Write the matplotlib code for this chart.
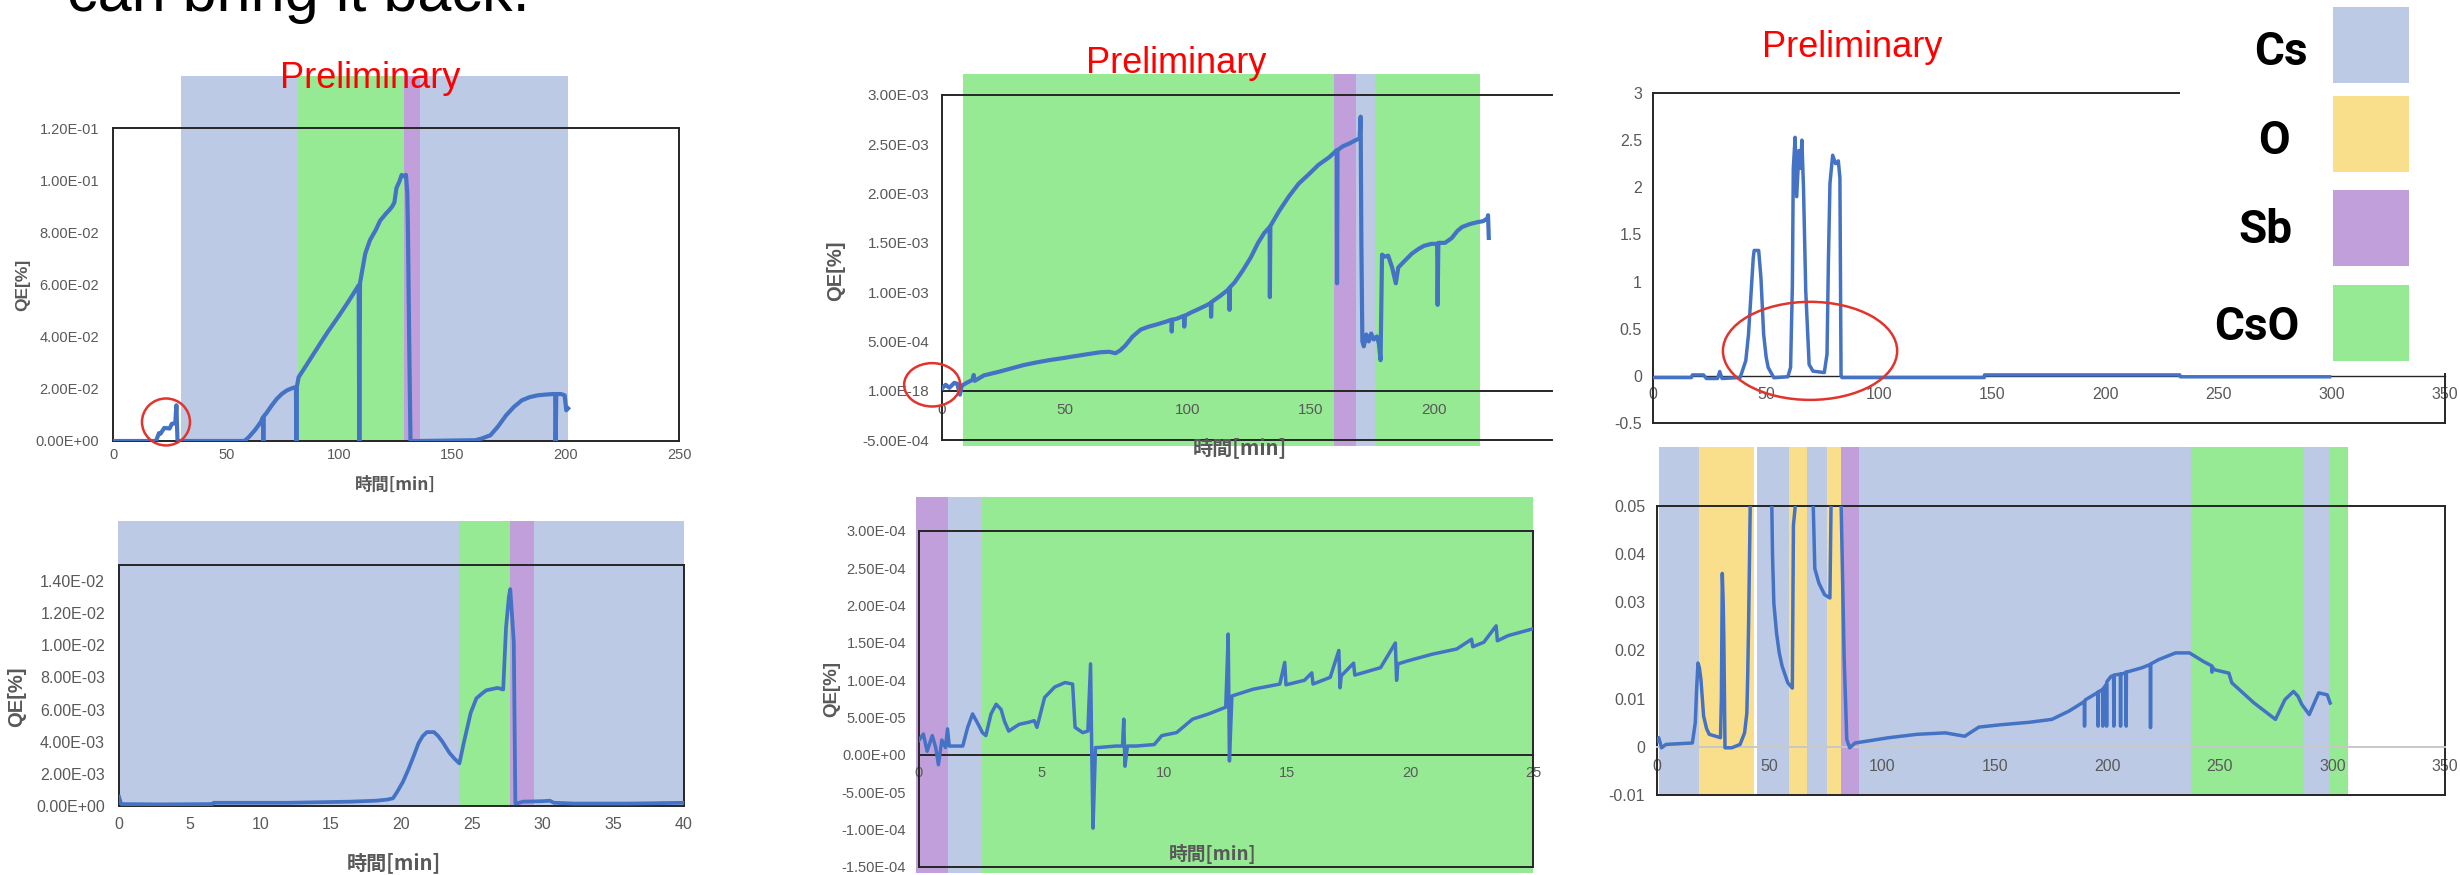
import matplotlib
matplotlib.use("Agg")
import matplotlib.pyplot as plt
from matplotlib.patches import Ellipse, Rectangle

plt.rcParams['font.family'] = ['Liberation Sans', 'DejaVu Sans']

# ==============================================================================
# DATA
# ==============================================================================

PHASES = ['Cs', 'O', 'Sb', 'CsO']
PHASE_COLORS = {'Cs': '#BCCAE5', 'O': '#F9DE8C', 'Sb': '#C09FDB', 'CsO': '#96EA94'}

# panel 1 (top left)
t1 = [0, 19, 20.3, 21, 22.6, 25, 26, 27.5, 28, 28.3,
      28.5, 40, 58, 60, 63, 65.3, 66.2, 66.4, 66.6, 67.6,
      70, 72.2, 74.5, 76.8, 79, 80.8, 81, 81.2, 82, 85,
      88.3, 92, 95, 99.8, 104, 108.5, 108.8, 109.1, 111.4, 113.5,
      116, 118, 120.6, 122, 123.4, 124.3, 125.2, 126.5, 127.5, 128.5,
      129.4, 130, 130.3, 130.8, 131.4, 135, 160, 163, 166.7, 170,
      173.6, 177, 180.6, 184, 187.5, 191, 194.4, 195.3, 195.5, 195.8,
      197.9, 199.5, 200.2, 201]
qe1 = [0, 0, 0.003, 0.0028, 0.005, 0.0048, 0.0066, 0.0068, 0.0137, 0.005,
       0, 0, 0, 0.0015, 0.0045, 0.0073, 0.009, 0, 0.0095, 0.0105,
       0.0135, 0.016, 0.018, 0.0194, 0.0202, 0.0207, 0, 0.0207, 0.0245, 0.0285,
       0.033, 0.038, 0.042, 0.048, 0.0535, 0.0597, 0, 0.0605, 0.0718, 0.077,
       0.0808, 0.0845, 0.0872, 0.0885, 0.09, 0.0915, 0.097, 0.0995, 0.102, 0.1015,
       0.102, 0.095, 0.079, 0.04, 0, 0, 0.0003, 0.001, 0.0022, 0.0055,
       0.0098, 0.013, 0.0156, 0.0168, 0.0175, 0.0178, 0.018, 0.018, 0, 0.018,
       0.018, 0.0175, 0.0118, 0.0125]
span1_start = [30, 81.6, 128.4, 135.7]
span1_end = [81.6, 128.4, 135.7, 201]
span1_phase = ['Cs', 'CsO', 'Sb', 'Cs']

# panel 2 (top middle)
t2 = [0, 1.5, 3, 5, 6.2, 7.3, 8, 10, 12.4, 12.9,
      13.3, 17, 22.8, 28, 33.2, 38, 43.5, 49, 53.9, 59,
      64.3, 68, 70.5, 72.5, 74.6, 77.5, 80.8, 84, 87, 91,
      93.3, 93.4, 93.6, 95.4, 98.4, 98.5, 98.7, 101, 103.6, 107,
      109.3, 109.4, 109.6, 113, 116.1, 116.8, 116.9, 117.1, 119, 122.3,
      125.5, 128.5, 131, 133.2, 133.3, 133.5, 137, 141, 145, 149.3,
      153, 157.5, 160.5, 160.6, 160.8, 163, 165.8, 168, 169.8, 170.2,
      170.5, 170.9, 171.5, 172.5, 173.5, 174.5, 175.5, 176.8, 177.6, 178.3,
      178.9, 180, 181.4, 183, 184.5, 185.5, 188.6, 191, 193.8, 196,
      199, 201.3, 201.5, 201.8, 204.5, 207.3, 209.5, 211.4, 214.5, 217.7,
      220, 221.8, 222.0, 222.3]
qe2 = [2.4e-5, 6e-5, 3e-5, 8e-5, 7e-5, -4e-5, 5e-5, 8e-5, 1.1e-4, 1.6e-4,
       1.0e-4, 1.55e-4, 1.9e-4, 2.25e-4, 2.6e-4, 2.85e-4, 3.1e-4, 3.3e-4, 3.5e-4, 3.7e-4,
       3.9e-4, 3.95e-4, 3.8e-4, 4.1e-4, 4.6e-4, 5.5e-4, 6.2e-4, 6.5e-4, 6.7e-4, 7.0e-4,
       7.2e-4, 6.0e-4, 7.2e-4, 7.3e-4, 7.6e-4, 6.5e-4, 7.6e-4, 7.9e-4, 8.2e-4, 8.6e-4,
       8.9e-4, 7.5e-4, 9.0e-4, 9.6e-4, 1.02e-3, 1.04e-3, 8.2e-4, 1.05e-3, 1.1e-3, 1.22e-3,
       1.35e-3, 1.5e-3, 1.6e-3, 1.66e-3, 9.5e-4, 1.67e-3, 1.82e-3, 1.97e-3, 2.1e-3, 2.2e-3,
       2.29e-3, 2.37e-3, 2.44e-3, 1.09e-3, 2.44e-3, 2.48e-3, 2.51e-3, 2.54e-3, 2.56e-3, 2.78e-3,
       1.5e-3, 5.0e-4, 4.5e-4, 5.7e-4, 5.0e-4, 5.8e-4, 5.2e-4, 5.5e-4, 4.8e-4, 3.1e-4,
       1.38e-3, 1.36e-3, 1.37e-3, 1.25e-3, 1.09e-3, 1.25e-3, 1.33e-3, 1.39e-3, 1.44e-3, 1.47e-3,
       1.49e-3, 1.49e-3, 8.7e-4, 1.5e-3, 1.5e-3, 1.55e-3, 1.62e-3, 1.66e-3, 1.69e-3, 1.71e-3,
       1.72e-3, 1.75e-3, 1.78e-3, 1.55e-3]
span2_start = [8.5, 159.5, 168.3, 176]
span2_end = [159.5, 168.3, 176, 218.7]
span2_phase = ['CsO', 'Sb', 'Cs', 'CsO']

# panel 3 (bottom left)
t3 = [0, 0.15, 3, 6.6, 6.7, 12, 16.4, 18.2, 19.0, 19.4,
      19.7, 20.1, 20.5, 20.9, 21.2, 21.5, 21.8, 22.3, 22.6, 22.9,
      23.4, 23.8, 24.1, 24.4, 24.9, 25.3, 25.7, 26.0, 26.8, 27.2,
      27.4, 27.6, 27.7, 27.8, 27.95, 28.06, 28.2, 28.6, 30.0, 30.5,
      30.8, 32.3, 36, 40]
qe3 = [5.8e-4, 1.2e-4, 1.0e-4, 1.2e-4, 2e-4, 2e-4, 2.7e-4, 3.3e-4, 4e-4, 4.8e-4,
       8.9e-4, 1.5e-3, 2.3e-3, 3.2e-3, 3.9e-3, 4.35e-3, 4.6e-3, 4.6e-3, 4.35e-3, 4.0e-3,
       3.3e-3, 2.9e-3, 2.65e-3, 3.9e-3, 5.8e-3, 6.7e-3, 7.0e-3, 7.2e-3, 7.35e-3, 7.25e-3,
       1.11e-2, 1.3e-2, 1.35e-2, 1.22e-2, 1.02e-2, 1.7e-4, 1.7e-4, 2.7e-4, 3.0e-4, 3.3e-4,
       2e-4, 1.5e-4, 1.5e-4, 2e-4]
span3_start = [-0.1, 24.1, 27.7, 29.4]
span3_end = [24.1, 27.7, 29.4, 40]
span3_phase = ['Cs', 'CsO', 'Sb', 'Cs']

# panel 4 (bottom middle)
t4 = [0, 0.2, 0.35, 0.56, 0.7, 0.81, 0.95, 1.1, 1.18, 1.25,
      1.8, 2.0, 2.2, 2.43, 2.6, 2.74, 2.95, 3.16, 3.36, 3.5,
      3.67, 4.09, 4.5, 4.71, 4.82, 5.13, 5.54, 5.96, 6.27, 6.37,
      6.68, 6.89, 7.0, 7.05, 7.1, 7.2, 7.31, 8.03, 8.3, 8.35,
      8.4, 8.5, 8.86, 9.59, 9.9, 10.5, 11.15, 11.8, 12.5, 12.6,
      12.65, 12.75, 13.6, 14.7, 14.9, 14.95, 15.7, 16.0, 16.05, 16.75,
      17.1, 17.15, 17.2, 17.7, 17.75, 18.8, 19.4, 19.45, 19.5, 19.9,
      20.9, 21.9, 22.5, 22.55, 23.0, 23.5, 23.55, 24.0, 25.0]
qe4 = [1.9e-5, 2.8e-5, 5e-6, 2.6e-5, 1e-5, -1.3e-5, 2e-5, 1e-5, 3.5e-5, 1.2e-5,
       1.2e-5, 3.7e-5, 5.5e-5, 4.1e-5, 3.0e-5, 2.6e-5, 5.5e-5, 6.8e-5, 6.1e-5, 4.5e-5,
       3.2e-5, 4.1e-5, 4.4e-5, 4.6e-5, 3.7e-5, 7.7e-5, 9.1e-5, 9.7e-5, 9.5e-5, 3.7e-5,
       3.0e-5, 3.2e-5, 1.22e-4, 0, -9.8e-5, 1e-5, 1e-5, 1.2e-5, 1.2e-5, 4.8e-5,
       -1.5e-5, 1.2e-5, 1.2e-5, 1.4e-5, 2.6e-5, 3.0e-5, 4.8e-5, 5.5e-5, 6.4e-5, 1.62e-4,
       -8e-6, 7.9e-5, 8.8e-5, 9.5e-5, 1.24e-4, 9.4e-5, 1.0e-4, 1.1e-4, 9.5e-5, 1.04e-4,
       1.4e-4, 9e-5, 1.06e-4, 1.23e-4, 1.07e-4, 1.17e-4, 1.5e-4, 1.0e-4, 1.22e-4, 1.26e-4,
       1.35e-4, 1.42e-4, 1.55e-4, 1.45e-4, 1.51e-4, 1.73e-4, 1.53e-4, 1.6e-4, 1.69e-4]
span4_start = [-0.12, 1.2, 2.57]
span4_end = [1.2, 2.57, 25]
span4_phase = ['Sb', 'Cs', 'CsO']

# panel 5 (top right)
t5 = [0, 17, 17.4, 22.3, 23.6, 28.5, 29.5, 30.5, 38.5, 41,
      42.2, 43.4, 44.3, 44.7, 46.7, 47.7, 48.9, 50, 50.9, 53.4,
      59.6, 60.8, 61.6, 62, 62.8, 63.5, 64.5, 65.2, 65.8, 66.5,
      67.5, 69, 70.7, 75.7, 76.9, 77.5, 78.2, 79.4, 80.7, 81.9,
      82.6, 83.1, 83.5, 146.4, 146.5, 232.8, 233, 299]
qe5 = [-0.018, -0.018, 0.01, 0.01, -0.028, -0.028, 0.046, -0.028, -0.018, 0.16,
       0.44, 0.9, 1.25, 1.33, 1.33, 1.04, 0.44, 0.2, 0.089, -0.02,
       -0.01, 0.09, 0.97, 2.2, 2.53, 1.9, 2.39, 2.2, 2.5, 2.0,
       0.9, 0.12, 0.05, 0.035, 0.23, 1.2, 2.04, 2.34, 2.25, 2.28,
       2.1, 0.0, -0.018, -0.018, 0.01, 0.01, -0.01, -0.01]

# panel 6 (bottom right)
t6 = [0, 0.75, 2, 4, 15.7, 17, 17.6, 18.2, 18.8, 19.5,
      20.7, 22, 23.2, 28.2, 28.6, 29, 29.4, 29.7, 30.2, 33.2,
      36.9, 38.9, 39.9, 40.3, 40.7, 41.4, 42, 50.4, 51.0, 51.3,
      51.9, 53.1, 54.3, 55.6, 58.1, 60.1, 60.6, 61.4, 62, 69,
      69.4, 70.1, 71.9, 74.4, 76.8, 77.3, 77.6, 81.5, 81.8, 83.1,
      84.3, 85.6, 88, 103, 115.5, 128, 136.7, 143, 153, 165.4,
      175.4, 182.9, 189.8, 189.9, 190.0, 190.4, 195.8, 195.9, 196.0, 197.9,
      198.0, 198.1, 199.6, 199.7, 199.8, 201.6, 202.8, 202.9, 203.0, 205.8,
      205.9, 206.0, 207.8, 208.3, 208.4, 208.5, 215.3, 219.1, 219.2, 219.3,
      222.8, 230.3, 236.5, 242.8, 246.4, 246.5, 246.6, 247.7, 254, 255.3,
      265.2, 274.7, 278.9, 282.7, 284.7, 286.4, 289.7, 293.9, 297.7, 299]
qe6 = [0.0012, 0.0019, -0.0002, 0.0005, 0.0008, 0.005, 0.012, 0.0174, 0.0165, 0.014,
       0.0064, 0.0038, 0.0026, 0.0019, 0.01, 0.036, 0.03, 0.022, -0.0002, -0.0002,
       0.0005, 0.0029, 0.007, 0.015, 0.026, 0.05, 0.06, 0.06, 0.05, 0.04,
       0.0298, 0.0236, 0.0195, 0.0167, 0.0133, 0.0122, 0.046, 0.05, 0.06, 0.06,
       0.05, 0.037, 0.034, 0.0316, 0.0309, 0.05, 0.06, 0.06, 0.05, 0.0188,
       0.0015, -0.0002, 0.0008, 0.0019, 0.0026, 0.0029, 0.0022, 0.0041, 0.0046, 0.0051,
       0.0057, 0.0074, 0.0094, 0.0043, 0.0096, 0.0098, 0.0113, 0.0043, 0.0114, 0.0119,
       0.0043, 0.012, 0.013, 0.0043, 0.0135, 0.0146, 0.0148, 0.0043, 0.0149, 0.0151,
       0.0043, 0.0151, 0.0153, 0.0155, 0.0043, 0.0155, 0.0164, 0.0171, 0.004, 0.0172,
       0.0181, 0.0195, 0.0195, 0.0177, 0.0168, 0.0155, 0.0166, 0.016, 0.0153, 0.0133,
       0.0091, 0.0057, 0.0098, 0.0115, 0.0105, 0.0088, 0.0067, 0.0112, 0.0108, 0.0091]
span6_start = [0.7, 18.7, 44.2, 58.6, 66.6, 75.6, 81.8, 89.6, 237, 287.2, 298.6]
span6_end = [18.7, 43.2, 58.6, 66.6, 75.6, 81.8, 89.6, 237, 287.2, 298.6, 306.9]
span6_phase = ['Cs', 'O', 'Cs', 'O', 'Cs', 'O', 'Sb', 'Cs', 'CsO', 'Cs', 'CsO']

# tick labels
yticks1 = [0, 0.02, 0.04, 0.06, 0.08, 0.10, 0.12]
ylabels1 = ['0.00E+00', '2.00E-02', '4.00E-02', '6.00E-02', '8.00E-02', '1.00E-01', '1.20E-01']
yticks2 = [-5e-4, 0, 5e-4, 1e-3, 1.5e-3, 2e-3, 2.5e-3, 3e-3]
ylabels2 = ['-5.00E-04', '1.00E-18', '5.00E-04', '1.00E-03', '1.50E-03', '2.00E-03', '2.50E-03', '3.00E-03']
yticks3 = [0, 0.002, 0.004, 0.006, 0.008, 0.010, 0.012, 0.014]
ylabels3 = ['0.00E+00', '2.00E-03', '4.00E-03', '6.00E-03', '8.00E-03', '1.00E-02', '1.20E-02', '1.40E-02']
yticks4 = [-1.5e-4, -1e-4, -5e-5, 0, 5e-5, 1e-4, 1.5e-4, 2e-4, 2.5e-4, 3e-4]
ylabels4 = ['-1.50E-04', '-1.00E-04', '-5.00E-05', '0.00E+00', '5.00E-05', '1.00E-04',
            '1.50E-04', '2.00E-04', '2.50E-04', '3.00E-04']
yticks5 = [-0.5, 0, 0.5, 1, 1.5, 2, 2.5, 3]
ylabels5 = ['-0.5', '0', '0.5', '1', '1.5', '2', '2.5', '3']
yticks6 = [-0.01, 0, 0.01, 0.02, 0.03, 0.04, 0.05]
ylabels6 = ['-0.01', '0', '0.01', '0.02', '0.03', '0.04', '0.05']

# ==============================================================================
# STYLE / HELPERS
# ==============================================================================

W, H = 2460, 875
LINE_BLUE = '#4472C4'
FRAME = '#262626'
GRAY = '#595959'
CIRCLE_RED = '#E0342C'
TICK_FONT = ['Liberation Sans Narrow', 'Liberation Sans', 'DejaVu Sans']
CJK_FONT = ['Noto Sans CJK JP', 'DejaVu Sans']

fig = plt.figure(figsize=(W / 100, H / 100), dpi=100)


def new_axes(left, top, right, bottom):
    """Axes placed by pixel box of the screenshot."""
    return fig.add_axes([left / W, 1 - bottom / H, (right - left) / W, (bottom - top) / H])


def fig_text(x, y, s, **kw):
    return fig.text(x / W, 1 - y / H, s, **kw)


def draw_spans(ax, starts, ends, phases, lo, hi):
    for s, e, p in zip(starts, ends, phases):
        ax.fill_between([s, e], lo, hi, color=PHASE_COLORS[p], lw=0, zorder=0, clip_on=False)


def finish_axes(ax, xlim, ylim, xticks, yticks, ylabels, size, xpad, ypad):
    ax.set_xlim(xlim)
    ax.set_ylim(ylim)
    ax.set_xticks(xticks, [f'{t:g}' for t in xticks])
    ax.set_yticks(yticks, ylabels)
    ax.tick_params(length=0, labelsize=size, labelcolor=GRAY)
    ax.tick_params(axis='x', pad=xpad)
    ax.tick_params(axis='y', pad=ypad)
    for sp in ax.spines.values():
        sp.set_color(FRAME)
        sp.set_linewidth(1.4)
    for lab in ax.get_xticklabels() + ax.get_yticklabels():
        lab.set_fontfamily(TICK_FONT)


def zero_axis(ax, ylo, color=FRAME, lw=1.4):
    """x axis crosses at 0, bottom edge of the plot frame drawn separately."""
    ax.spines['bottom'].set_position(('data', 0))
    ax.spines['bottom'].set_color(color)
    ax.spines['bottom'].set_linewidth(lw)
    ax.axhline(ylo, color=FRAME, lw=1.4, clip_on=False, zorder=2.5)


def axis_labels(xlab_pos, ylab_pos, size):
    fig_text(*xlab_pos, '時間[min]', fontsize=size, fontweight='bold', color=GRAY,
             family=CJK_FONT, ha='center', va='center')
    fig_text(*ylab_pos, 'QE[%]', fontsize=size, fontweight='bold', color=GRAY,
             rotation=90, ha='center', va='center')


# ==============================================================================
# PANELS
# ==============================================================================

# --- panel 1 ---
ax1 = new_axes(113, 128, 679, 441)
draw_spans(ax1, span1_start, span1_end, span1_phase, 0, 0.14)
ax1.plot(t1, qe1, color=LINE_BLUE, lw=3.0, zorder=3)
ax1.add_patch(Ellipse((23.4, 0.0073), 21.2, 0.018, fill=False, ec=CIRCLE_RED, lw=1.8,
                      zorder=4, clip_on=False))
finish_axes(ax1, (0, 250), (0, 0.12), [0, 50, 100, 150, 200, 250], yticks1, ylabels1, 10.5, 5, 10)
axis_labels((395, 485), (23, 285), 12.5)

# --- panel 2 ---
ax2 = new_axes(942, 95, 1552, 440)
draw_spans(ax2, span2_start, span2_end, span2_phase, -5.58e-4, 3.215e-3)
ax2.plot(t2, qe2, color=LINE_BLUE, lw=3.0, zorder=3)
ax2.add_patch(Ellipse((-4, 6e-5), 22.8, 4.4e-4, fill=False, ec=CIRCLE_RED, lw=1.8,
                      zorder=4, clip_on=False))
finish_axes(ax2, (0, 248), (-5e-4, 3e-3), [0, 50, 100, 150, 200], yticks2, ylabels2, 11, 9, 9)
ax2.spines['right'].set_visible(False)
zero_axis(ax2, -5e-4)
axis_labels((1240, 448), (836, 271), 14.5)

# --- panel 3 ---
ax3 = new_axes(119, 565, 684, 806)
draw_spans(ax3, span3_start, span3_end, span3_phase, 0, 0.01773)
ax3.plot(t3, qe3, color=LINE_BLUE, lw=2.7, zorder=3)
finish_axes(ax3, (0, 40), (0, 0.015), list(range(0, 41, 5)), yticks3, ylabels3, 11.5, 8, 10)
axis_labels((394, 863), (17, 697), 14.5)

# --- panel 4 ---
ax4 = new_axes(918.5, 531, 1533, 867)
draw_spans(ax4, span4_start, span4_end, span4_phase, -1.58e-4, 3.45e-4)
ax4.plot(t4, qe4, color=LINE_BLUE, lw=2.5, zorder=3)
finish_axes(ax4, (0, 25), (-1.5e-4, 3e-4), list(range(0, 26, 5)), yticks4, ylabels4, 10.5, 8, 9)
zero_axis(ax4, -1.5e-4)
axis_labels((1213, 854), (832, 689), 13.5)

# --- panel 5 ---
ax5 = new_axes(1653, 93, 2445, 423)
ax5.plot(t5, qe5, color=LINE_BLUE, lw=2.5, zorder=3)
ax5.add_patch(Ellipse((69.4, 0.265), 77, 1.04, fill=False, ec=CIRCLE_RED, lw=1.8,
                      zorder=4, clip_on=False))
finish_axes(ax5, (0, 350), (-0.5, 3), list(range(0, 351, 50)), yticks5, ylabels5, 11.5, 8, 8)
zero_axis(ax5, -0.5, lw=1.0)
# the legend picture sits on top of the upper right part of this chart
ax5.add_patch(Rectangle((232.8, 0.035), 140, 3.4, facecolor='white', edgecolor='none',
                        zorder=2.8, clip_on=False))

# --- panel 6 ---
ax6 = new_axes(1657, 506, 2445, 795)
draw_spans(ax6, span6_start, span6_end, span6_phase, -0.01, 0.0622)
ax6.plot(t6, qe6, color=LINE_BLUE, lw=2.5, zorder=3)
finish_axes(ax6, (0, 350), (-0.01, 0.05), list(range(0, 351, 50)), yticks6, ylabels6, 11.5, 8.5, 8.5)
zero_axis(ax6, -0.01, color='#C8C8C8', lw=1.4)

# ==============================================================================
# SLIDE TEXT AND LEGEND
# ==============================================================================

fig_text(67, 11, 'can bring it back.', fontsize=44, color='black', ha='left', va='baseline')
for cx, base in [(370, 88), (1176, 73), (1852, 57)]:
    fig_text(cx, base, 'Preliminary', fontsize=26, color='#FF0000', ha='center',
             va='baseline', zorder=6)

legend_tops = [7, 96, 190, 285]
legend_text_pos = [(2281, 65), (2274, 154), (2265, 243), (2257, 340)]
for phase, top, (cx, base) in zip(PHASES, legend_tops, legend_text_pos):
    fig.add_artist(Rectangle((2333 / W, 1 - (top + 76) / H), 76 / W, 76 / H,
                             transform=fig.transFigure, facecolor=PHASE_COLORS[phase],
                             edgecolor='none', zorder=6))
    fig_text(cx, base, phase, fontsize=33, fontweight='bold', family=['Roboto', 'Liberation Sans'],
             color='black', ha='center', va='baseline', zorder=6)

fig.savefig('out.png', dpi=100)
